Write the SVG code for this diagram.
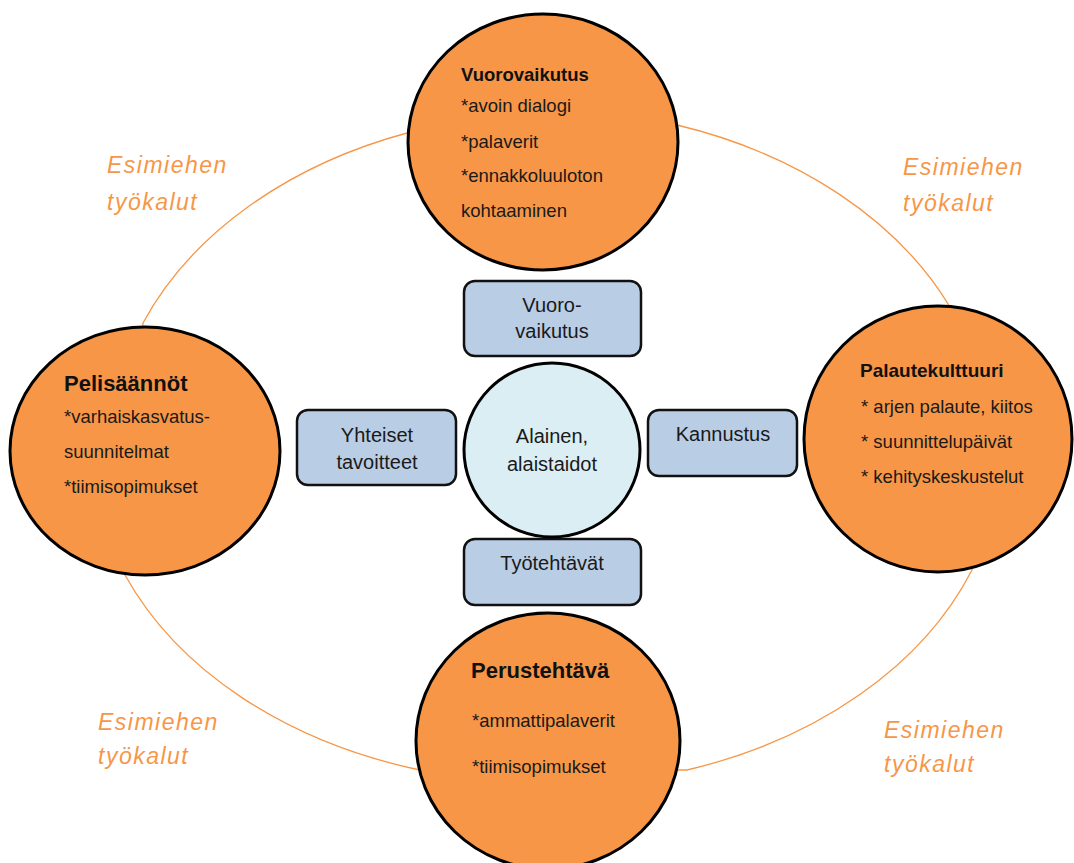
<svg xmlns="http://www.w3.org/2000/svg" width="1074" height="863" viewBox="0 0 1074 863">
  <style>
    .big { fill: #f79646; stroke: #000; stroke-width: 3; }
    .box { fill: #b9cde5; stroke: #111; stroke-width: 2.5; }
    .core { fill: #dbeef4; stroke: #000; stroke-width: 3; }
    .title { font-family: "Liberation Sans", Arial, sans-serif; font-weight: bold; fill: #111; }
    .item { font-family: "Liberation Sans", Arial, sans-serif; font-size: 18.5px; fill: #1a1a1a; }
    .mid { font-family: "Liberation Sans", Arial, sans-serif; font-size: 20px; fill: #1a1a1a; text-anchor: middle; }
    .tool { font-family: "Liberation Sans", Arial, sans-serif; font-style: italic; font-size: 23px; letter-spacing: 1.5px; fill: #f79646; }
    .ring { fill: none; stroke: #f79646; stroke-width: 1.3; }
  </style>
  <rect width="1074" height="863" fill="#ffffff"/>

  <g id="connectors">
    <path class="ring" d="M143,323 A450,335 0 0 1 407,133 L677,125 A450,335 0 0 1 950,307 L972,570 A450,335 0 0 1 687,770 L420,770 A450,335 0 0 1 125,575 Z"/>
  </g>

  <g id="label-tl">
    <text class="tool" x="107" y="173">Esimiehen</text>
    <text class="tool" x="107" y="210">työkalut</text>
  </g>
  <g id="label-tr">
    <text class="tool" x="903" y="175">Esimiehen</text>
    <text class="tool" x="903" y="211">työkalut</text>
  </g>
  <g id="label-bl">
    <text class="tool" x="98" y="730">Esimiehen</text>
    <text class="tool" x="98" y="764">työkalut</text>
  </g>
  <g id="label-br">
    <text class="tool" x="884" y="738">Esimiehen</text>
    <text class="tool" x="884" y="772">työkalut</text>
  </g>

  <g id="node-vuorovaikutus">
    <ellipse class="big" cx="543" cy="142" rx="135" ry="128"/>
    <text class="title" x="461" y="81" font-size="18.5">Vuorovaikutus</text>
    <text class="item" x="461" y="112">*avoin dialogi</text>
    <text class="item" x="461" y="148">*palaverit</text>
    <text class="item" x="461" y="182">*ennakkoluuloton</text>
    <text class="item" x="461" y="217">kohtaaminen</text>
  </g>

  <g id="node-pelisaannot">
    <ellipse class="big" cx="145" cy="451" rx="135" ry="124"/>
    <text class="title" x="64" y="391" font-size="22">Pelisäännöt</text>
    <text class="item" x="64" y="423">*varhaiskasvatus-</text>
    <text class="item" x="64" y="458">suunnitelmat</text>
    <text class="item" x="64" y="493">*tiimisopimukset</text>
  </g>

  <g id="node-palautekulttuuri">
    <ellipse class="big" cx="938" cy="439" rx="134" ry="133"/>
    <text class="title" x="860" y="377" font-size="19">Palautekulttuuri</text>
    <text class="item" x="861" y="413">* arjen palaute, kiitos</text>
    <text class="item" x="861" y="448">* suunnittelupäivät</text>
    <text class="item" x="861" y="483">* kehityskeskustelut</text>
  </g>

  <g id="node-perustehtava">
    <ellipse class="big" cx="548" cy="741" rx="132" ry="128"/>
    <text class="title" x="471" y="678" font-size="22">Perustehtävä</text>
    <text class="item" x="472" y="727">*ammattipalaverit</text>
    <text class="item" x="472" y="773">*tiimisopimukset</text>
  </g>

  <g id="box-vuorovaikutus">
    <rect class="box" x="464" y="281" width="177" height="75" rx="11"/>
    <text class="mid" x="552" y="312">Vuoro-</text>
    <text class="mid" x="552" y="338">vaikutus</text>
  </g>

  <g id="box-yhteiset">
    <rect class="box" x="297" y="410" width="159" height="75" rx="11"/>
    <text class="mid" x="377" y="442">Yhteiset</text>
    <text class="mid" x="377" y="469">tavoitteet</text>
  </g>

  <g id="box-kannustus">
    <rect class="box" x="648" y="410" width="149" height="66" rx="11"/>
    <text class="mid" x="723" y="441">Kannustus</text>
  </g>

  <g id="box-tyotehtavat">
    <rect class="box" x="464" y="539" width="177" height="66" rx="11"/>
    <text class="mid" x="552" y="570">Työtehtävät</text>
  </g>

  <g id="node-alainen">
    <ellipse class="core" cx="552" cy="450" rx="88" ry="87"/>
    <text class="mid" x="552" y="443">Alainen,</text>
    <text class="mid" x="552" y="471">alaistaidot</text>
  </g>
</svg>
